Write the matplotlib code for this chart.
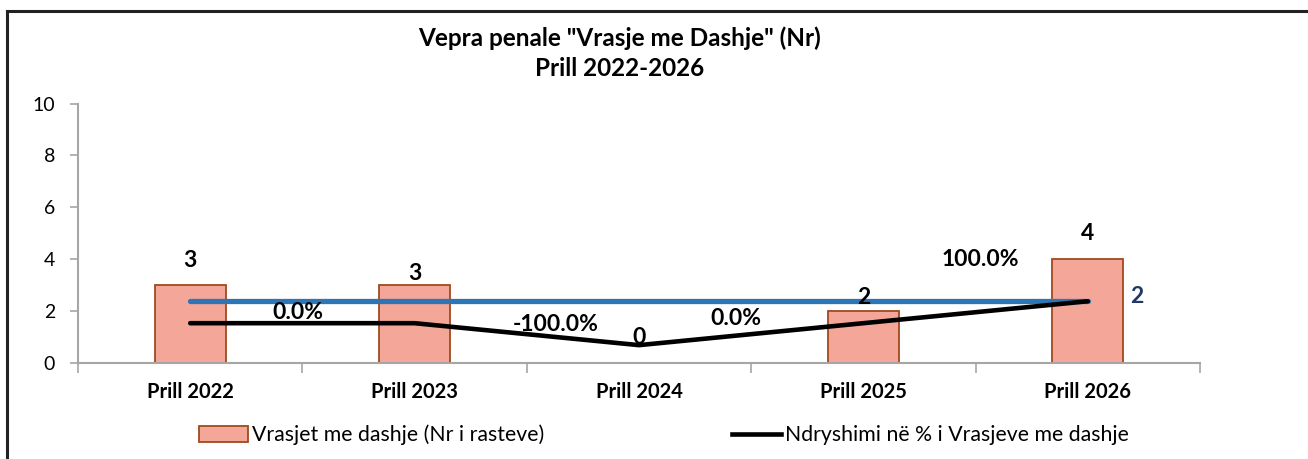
import matplotlib
matplotlib.use("Agg")
import matplotlib.pyplot as plt
from matplotlib.lines import Line2D
from matplotlib.patches import Patch
import numpy as np

plt.rcParams['font.family'] = ['Lato', 'DejaVu Sans']

# ---- data ----
categories = ["Prill 2022", "Prill 2023", "Prill 2024", "Prill 2025", "Prill 2026"]
vrasjet = [3, 3, 0, 2, 4]                       # Vrasjet me dashje (Nr i rasteve)
ndryshimi_pct = [0.0, 0.0, -100.0, 0.0, 100.0]  # Ndryshimi në %
pct_labels_shown = [False, True, True, True, True]
mesatarja = [2.4, 2.4, 2.4, 2.4, 2.4]           # average line
title = 'Vepra penale "Vrasje me Dashje" (Nr)\nPrill 2022-2026'
legend_bar = "Vrasjet me dashje (Nr i rasteve)"
legend_line = "Ndryshimi në % i Vrasjeve me dashje"

# ---- styling / layout ----
bar_face = "#F4A799"
bar_edge = "#9E4A1E"
blue = "#2E75B6"
dark_blue = "#1F3864"
axis_gray = "#A6A6A6"

bar_label_dy = [0.96, 0.46, 0.99, 0.5, 1.0]
pct_label_off = [(0, 0), (-0.52, 0.40), (-0.37, 0.78), (-0.57, 0.17), (-0.48, 1.63)]

fig = plt.figure(figsize=(13.08, 4.59), dpi=100)
ax = fig.add_axes([78/1308, 1-362.7/459, (1200-78)/1308, (362.7-103.7)/459])

x = np.arange(len(categories))
ax.bar(x, vrasjet, width=0.316, color=bar_face, edgecolor=bar_edge, linewidth=1.3, zorder=2)

ax.set_xlim(-0.5, len(categories)-0.5)
ax.set_ylim(0, 10)
ax.set_yticks(np.arange(0, 11, 2))
ax.set_xticks(x)
ax.set_xticklabels(categories, fontweight='bold', fontsize=14.5)
ax.tick_params(axis='x', length=0, pad=14)
ax.set_xticks(np.arange(-0.5, len(categories), 1.0), minor=True)
ax.tick_params(axis='x', which='minor', length=7, color=axis_gray, width=1.2)
ax.tick_params(axis='y', length=6, color=axis_gray, width=1.2, labelsize=14, pad=10.5)
for s in ['top', 'right']:
    ax.spines[s].set_visible(False)
for s in ['left', 'bottom']:
    ax.spines[s].set_color(axis_gray)
    ax.spines[s].set_linewidth(1.5)

# average line
ax.plot(x, mesatarja, color=blue, lw=3.8, solid_capstyle='round', zorder=4)
ax.text(x[-1] + 0.22, mesatarja[-1] + 0.14, f"{mesatarja[-1]:.0f}", color=dark_blue,
        fontweight='bold', fontsize=16.5, ha='center', va='center', zorder=6)

# bar labels
for xi, v, dy in zip(x, vrasjet, bar_label_dy):
    ax.text(xi, v + dy, f"{v}", fontweight='bold', fontsize=16.5, ha='center', va='center', zorder=6)

# secondary axis for percent change
ax2 = ax.twinx()
ax2.set_ylim(-180, 1000)
ax2.axis('off')
ax2.plot(x, ndryshimi_pct, color='black', lw=3.3, solid_capstyle='round',
         solid_joinstyle='round', zorder=5)
ax2.set_xlim(ax.get_xlim())

# pct labels (positioned in primary coordinates)
for xi, p, show, (dx, dy) in zip(x, ndryshimi_pct, pct_labels_shown, pct_label_off):
    if not show:
        continue
    ydisp = ax2.transData.transform((xi, p))
    yprim = ax.transData.inverted().transform(ydisp)[1]
    ax.text(xi + dx, yprim + dy, f"{p:.1f}%", fontweight='bold', fontsize=16.5,
            ha='center', va='center', zorder=7)

# title
fig.text(620/1308, 1-38/459, title.split("\n")[0], ha='center', va='center',
         fontweight='bold', fontsize=17.5)
fig.text(620/1308, 1-69/459, title.split("\n")[1], ha='center', va='center',
         fontweight='bold', fontsize=17.5)

# legend
handles = [Patch(facecolor=bar_face, edgecolor=bar_edge, linewidth=1.3),
           Line2D([0], [0], color='black', lw=3.3)]
leg = fig.legend(handles, [legend_bar, legend_line], loc='center', ncol=2,
                 bbox_to_anchor=(664/1308, 1-435/459), frameon=False, fontsize=15.3,
                 handlelength=2.3, handletextpad=0.2, columnspacing=8.8,
                 handleheight=0.8)

# outer border (top and left)
fig.add_artist(Line2D([7/1308, 1.0], [1-10.5/459, 1-10.5/459], color='#222222', lw=2.2,
                      transform=fig.transFigure))
fig.add_artist(Line2D([7/1308, 7/1308], [0.0, 1-10.5/459], color='#222222', lw=2.2,
                      transform=fig.transFigure))

fig.savefig("out.png", dpi=100)
